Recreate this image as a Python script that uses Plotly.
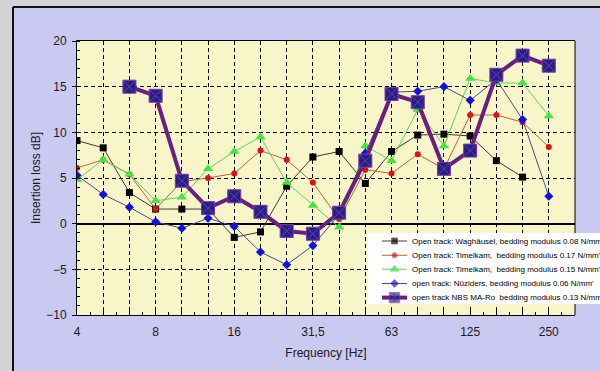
import plotly.graph_objects as go

# Third-octave band centre frequencies (Hz) and the bands that carry a label
freq_labels = ["4", "5", "6,3", "8", "10", "12,5", "16", "20", "25", "31,5",
               "40", "50", "63", "80", "100", "125", "160", "200", "250"]
labelled_bands = ["4", "8", "16", "31,5", "63", "125", "250"]

# Insertion loss in dB per band
waghaeusel_008 = [9.1, 8.3, 3.4, 1.6, 1.6, 1.6, -1.5, -0.9, 4.1, 7.3,
                  7.9, 4.4, 7.9, 9.7, 9.8, 9.6, 6.9, 5.1, None]
timelkam_017 = [6.1, 7.0, 5.4, 1.6, 4.6, 5.0, 5.5, 8.0, 7.0, 4.5,
                0.5, 5.9, 5.5, 7.6, 6.0, 11.9, 11.9, 11.1, 8.4]
timelkam_015 = [4.8, 7.0, 5.4, 2.5, 2.9, 6.0, 7.9, 9.5, 4.5, 2.0,
                -0.4, 8.5, 6.9, 12.5, 8.5, 15.9, 15.4, 15.4, 11.8]
nueziders_006 = [5.3, 3.2, 1.8, 0.2, -0.5, 0.6, -0.3, -3.1, -4.5, -2.4,
                 1.0, 7.7, 14.4, 14.5, 15.0, 13.5, 15.8, 11.4, 3.0]
nbs_ma_ro_013 = [None, None, 15.0, 14.0, 4.7, 1.7, 3.0, 1.3, -0.8, -1.1,
                 1.2, 6.9, 14.2, 13.3, 6.0, 8.0, 16.3, 18.4, 17.3]

series_names = [
    "Open track: Waghäusel, bedding modulus 0.08 N/mm'",
    "Open track: Timelkam,\u00a0 bedding modulus 0.17 N/mm'",
    "Open track: Timelkam,\u00a0 bedding modulus 0.15 N/mm'",
    "open track: Nüziders, bedding modulus 0.06 N/mm'",
    "open track NBS MA-Ro\u00a0 bedding modulus 0.13 N/mm'",
]
series_values = [waghaeusel_008, timelkam_017, timelkam_015, nueziders_006, nbs_ma_ro_013]

styles = [
    dict(line=dict(color="#3a3a3a", width=1),
         marker=dict(symbol="square", size=7, color="#000000")),
    dict(line=dict(color="#c2623c", width=1),
         marker=dict(symbol="circle", size=6, color="#e01010")),
    dict(line=dict(color="#5ed25e", width=1),
         marker=dict(symbol="triangle-up", size=9, color="#3ee63e")),
    dict(line=dict(color="#4a4a8c", width=1),
         marker=dict(symbol="diamond", size=7, color="#1010e0")),
    dict(line=dict(color="#6a1f80", width=4),
         marker=dict(symbol="square-x", size=13, color="#23208c",
                     line=dict(color="#7a3a9c", width=1))),
]
legend_marker_scale = [0.85, 0.85, 0.85, 0.85, 0.8]

Y_MIN, Y_MAX = -10, 20

# Plot-area geometry in pixels
W_FIG, H_FIG = 600, 371
L, R, T, B = 77, 25, 41, 56
PW, PH = W_FIG - L - R, H_FIG - T - B


def px_x(px):
    return (px - L) / PW


def px_y(py):
    return (T + PH - py) / PH


def data_x(px):
    return px_x(px) * len(freq_labels)


def data_y(py):
    return Y_MIN + px_y(py) * (Y_MAX - Y_MIN)


band_pos = list(range(len(freq_labels)))

fig = go.Figure()
for name, vals, st in zip(series_names, series_values, styles):
    fig.add_trace(go.Scatter(
        x=band_pos, y=vals, name=name, mode="lines+markers",
        line=st["line"], marker=st["marker"], connectgaps=False,
        showlegend=False, hoverinfo="skip",
    ))

# Legend box geometry (pixels)
LEG_LEFT, LEG_TOP, LEG_BOTTOM = 368, 233, 304
legend_rows = [241, 255.3, 269.2, 283.5, 297.6]
sample_x0, sample_x1, text_x = 382, 407, 410

shapes = [
    # outer grey window strip and dark frame
    dict(type="rect", xref="paper", yref="paper", x0=px_x(-20), x1=px_x(12),
         y0=px_y(400), y1=px_y(-20), fillcolor="#d4d4d4", line=dict(width=0),
         layer="below"),
    dict(type="rect", xref="paper", yref="paper", x0=px_x(-20), x1=px_x(620),
         y0=px_y(6), y1=px_y(-20), fillcolor="#d4d4d4", line=dict(width=0),
         layer="below"),
    dict(type="line", xref="paper", yref="paper", x0=px_x(13), x1=px_x(13),
         y0=px_y(400), y1=px_y(7), line=dict(color="#111111", width=2),
         layer="below"),
    dict(type="line", xref="paper", yref="paper", x0=px_x(13), x1=px_x(620),
         y0=px_y(7), y1=px_y(7), line=dict(color="#111111", width=2),
         layer="below"),
    # legend background: inside the plot (over the grid, under the traces)
    dict(type="rect", xref="x", yref="y", x0=data_x(LEG_LEFT), x1=len(freq_labels),
         y0=data_y(LEG_BOTTOM), y1=data_y(LEG_TOP), fillcolor="#ffffff",
         line=dict(width=0), layer="between"),
    # ...and its continuation into the right margin
    dict(type="rect", xref="paper", yref="paper", x0=1, x1=px_x(640),
         y0=px_y(LEG_BOTTOM), y1=px_y(LEG_TOP), fillcolor="#ffffff",
         line=dict(width=0), layer="below"),
    # right frame of the plot area, interrupted by the legend box
    dict(type="line", xref="paper", yref="paper", x0=1, x1=1,
         y0=px_y(LEG_TOP), y1=1, line=dict(color="#000000", width=1),
         layer="above"),
    dict(type="line", xref="paper", yref="paper", x0=1, x1=1,
         y0=0, y1=px_y(LEG_BOTTOM), line=dict(color="#000000", width=1),
         layer="above"),
]

annotations = []
for name, st, row, k in zip(series_names, styles, legend_rows, legend_marker_scale):
    fig.add_trace(go.Scatter(
        x=[px_x(sample_x0), px_x((sample_x0 + sample_x1) / 2), px_x(sample_x1)],
        y=[px_y(row)] * 3, mode="lines+markers", xaxis="x2", yaxis="y2",
        line=st["line"],
        marker=dict(st["marker"], size=[0, st["marker"]["size"] * k, 0]),
        showlegend=False, hoverinfo="skip",
    ))
    annotations.append(dict(
        xref="paper", yref="paper", x=px_x(text_x), y=px_y(row),
        xanchor="left", yanchor="middle", showarrow=False, text=name,
        font=dict(size=8, color="#000000", family="Liberation Sans, Arial"),
    ))

grid_dash = "4px,3px"
fig.update_layout(
    width=W_FIG, height=H_FIG,
    margin=dict(l=L, r=R, t=T, b=B),
    paper_bgcolor="#c9c9f2",
    plot_bgcolor="#f8f6c8",
    showlegend=False,
    font=dict(family="Liberation Sans, Arial", size=12, color="#1a1a1a"),
    shapes=shapes,
    annotations=annotations,
    xaxis=dict(
        range=[0, len(freq_labels)],
        tickmode="array", tickvals=band_pos,
        ticktext=[f if f in labelled_bands else "" for f in freq_labels],
        showgrid=True, gridcolor="#000000", gridwidth=1, griddash=grid_dash,
        showline=True, linecolor="#000000", linewidth=1, mirror=True,
        ticks="inside", ticklen=4, tickcolor="#000000",
        minor=dict(dtick=0.5, tick0=0, ticks="inside", ticklen=3,
                   tickcolor="#000000", showgrid=False),
        zeroline=False, ticklabelstandoff=6,
        title=dict(text="Frequency [Hz]", standoff=10,
                   font=dict(size=12)),
        fixedrange=True,
    ),
    yaxis=dict(
        range=[Y_MIN, Y_MAX], tick0=0, dtick=5,
        showgrid=True, gridcolor="#000000", gridwidth=1, griddash=grid_dash,
        zeroline=True, zerolinecolor="#000000", zerolinewidth=2,
        showline=True, linecolor="#000000", linewidth=1, mirror=False,
        ticks="outside", ticklen=4, tickcolor="#000000",
        minor=dict(dtick=1, ticks="inside", ticklen=3, tickcolor="#000000",
                   showgrid=False),
        ticklabelstandoff=3,
        title=dict(text="Insertion loss dB]", standoff=3, font=dict(size=12)),
        fixedrange=True,
    ),
    xaxis2=dict(overlaying="x", range=[0, 1], visible=False, fixedrange=True),
    yaxis2=dict(overlaying="y", range=[0, 1], visible=False, fixedrange=True),
)

fig.write_html("out.html")
